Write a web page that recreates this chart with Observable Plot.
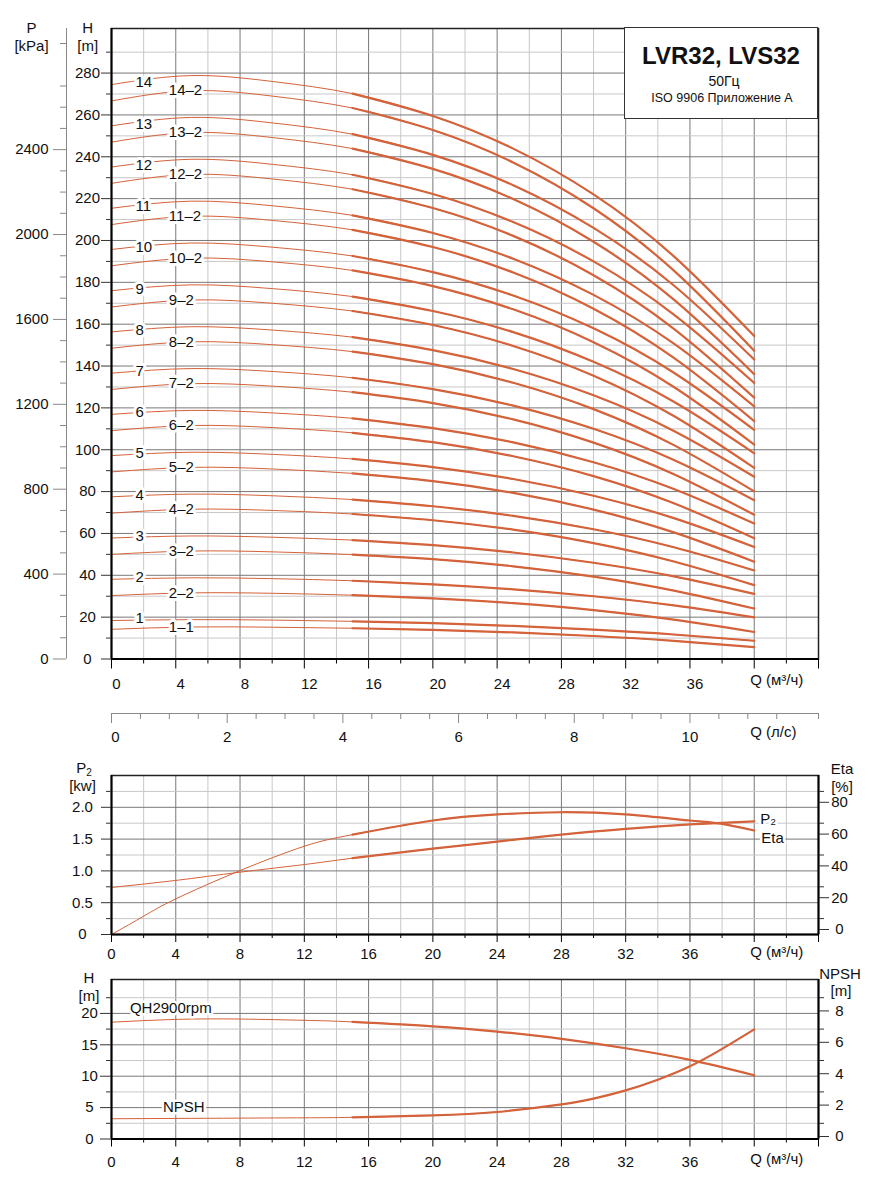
<!DOCTYPE html>
<html>
<head>
<meta charset="utf-8">
<script src="https://cdn.jsdelivr.net/npm/d3@7"></script>
<script src="https://cdn.jsdelivr.net/npm/@observablehq/plot@0.6"></script>
<style>
html, body { margin: 0; padding: 0; background: #fff; }
body { width: 875px; height: 1193px; position: relative; overflow: hidden;
  font-family: "Liberation Sans", Arial, Helvetica, sans-serif; color: #111; }
.panel { position: absolute; left: 0; }
.panel svg { display: block; }
.lbl { position: absolute; font-size: 15px; line-height: 1; transform: translate(-50%, -50%); white-space: nowrap; }
#title { position: absolute; left: 624px; top: 27px; width: 194px; height: 92px; box-sizing: border-box;
  border: 1.5px solid #333; background: #fff; text-align: center; }
#title div { position: absolute; left: 0; right: 0; line-height: 1; white-space: nowrap; }
</style>
</head>
<body>
<div id="p1" class="panel" style="top:0px"></div>
<div id="p2" class="panel" style="top:750px"></div>
<div id="p3" class="panel" style="top:960px"></div>
<div id="title">
  <div style="top:16px;font-size:24px;font-weight:bold;">LVR32, LVS32</div>
  <div style="top:46px;font-size:14px;padding-left:6px;">50Гц</div>
  <div style="top:63.5px;font-size:12.5px;padding-left:2px;">ISO 9906 Приложение A</div>
</div>
<div id="labels"></div>
<script>
const FONT = "'Liberation Sans', Arial, Helvetica, sans-serif";
const CURVE = "#d4623a";
const GRID_DARK = "#787878";
const GRID_LIGHT = "#c8c8c8";
const INK = "#111";

// ---------------- Main chart (H per pump variant) ----------------
const qMain = [0, 5, 10, 15, 20, 25, 30, 35, 40];
const h14   = [274.5, 278.8, 276.0, 270.2, 259.5, 243.9, 222.0, 192.4, 154.3];
const h14_2 = [266.7, 271.6, 269.0, 263.3, 252.8, 237.3, 215.4, 185.6, 147.3];
const h13   = [254.8, 258.8, 256.2, 250.8, 240.9, 226.4, 206.0, 178.5, 143.1];
const h13_2 = [247.0, 251.6, 249.2, 243.9, 234.2, 219.8, 199.4, 171.7, 136.1];
const h12   = [235.1, 238.8, 236.4, 231.4, 222.2, 208.8, 190.0, 164.6, 131.9];
const h12_2 = [227.3, 231.6, 229.4, 224.5, 215.5, 202.2, 183.4, 157.8, 124.9];
const h11   = [215.4, 218.8, 216.6, 212.0, 203.6, 191.3, 174.0, 150.7, 120.7];
const h11_2 = [207.6, 211.6, 209.6, 205.1, 196.9, 184.7, 167.4, 143.9, 113.7];
const h10   = [195.7, 198.8, 196.8, 192.6, 184.9, 173.7, 158.0, 136.8, 109.5];
const h10_2 = [187.9, 191.6, 189.8, 185.7, 178.2, 167.1, 151.4, 130.0, 102.5];
const h9    = [176.0, 178.8, 177.0, 173.2, 166.3, 156.2, 142.0, 122.9, 98.3];
const h9_2  = [168.2, 171.6, 170.0, 166.3, 159.6, 149.6, 135.4, 116.1, 91.3];
const h8    = [156.3, 158.8, 157.2, 153.8, 147.6, 138.6, 126.0, 109.0, 87.1];
const h8_2  = [148.5, 151.6, 150.2, 146.9, 140.9, 132.0, 119.4, 102.2, 80.1];
const h7    = [136.6, 138.8, 137.4, 134.4, 129.0, 121.1, 110.0, 95.1, 75.9];
const h7_2  = [128.8, 131.6, 130.4, 127.5, 122.3, 114.5, 103.4, 88.3, 68.9];
const h6    = [116.9, 118.8, 117.6, 115.0, 110.3, 103.5, 94.0, 81.2, 64.7];
const h6_2  = [109.1, 111.6, 110.6, 108.1, 103.6, 96.9, 87.4, 74.4, 57.7];
const h5    = [97.2, 98.8, 97.8, 95.6, 91.7, 86.0, 78.0, 67.3, 53.5];
const h5_2  = [89.4, 91.6, 90.8, 88.7, 85.0, 79.4, 71.4, 60.5, 46.5];
const h4    = [77.5, 78.8, 78.0, 76.2, 73.0, 68.4, 62.0, 53.4, 42.3];
const h4_2  = [69.7, 71.6, 71.0, 69.3, 66.3, 61.8, 55.4, 46.6, 35.3];
const h3    = [57.8, 58.8, 58.2, 56.8, 54.4, 50.9, 46.0, 39.5, 31.1];
const h3_2  = [50.0, 51.6, 51.2, 49.9, 47.7, 44.3, 39.4, 32.7, 24.1];
const h2    = [38.1, 38.8, 38.4, 37.4, 35.7, 33.3, 30.0, 25.6, 19.9];
const h2_2  = [30.3, 31.6, 31.4, 30.5, 29.0, 26.7, 23.4, 18.8, 12.9];
const h1    = [18.4, 18.8, 18.6, 18.0, 17.1, 15.8, 14.0, 11.7, 8.7];
const h1_1  = [14.2, 15.3, 15.2, 14.7, 13.9, 12.7, 11.0, 8.7, 5.7];

const curveNames = ["14","14–2","13","13–2","12","12–2","11","11–2","10","10–2","9","9–2","8","8–2",
  "7","7–2","6","6–2","5","5–2","4","4–2","3","3–2","2","2–2","1","1–1"];
const curveValues = [h14,h14_2,h13,h13_2,h12,h12_2,h11,h11_2,h10,h10_2,h9,h9_2,h8,h8_2,
  h7,h7_2,h6,h6_2,h5,h5_2,h4,h4_2,h3,h3_2,h2,h2_2,h1,h1_1];

const hTicks = [0,20,40,60,80,100,120,140,160,180,200,220,240,260,280];
const kpaTicks = [0,400,800,1200,1600,2000,2400];
const KPA_PER_M = 9.86;
const qTicks = [0,4,8,12,16,20,24,28,32,36];
const lsTicks = [0,2,4,6,8,10];
const M3H_PER_LS = 3.6;
const qUnit = "Q (м³/ч)";
const lsUnit = "Q (л/с)";

// ---------------- P2 / Eta ----------------
const qPower = [0, 4, 8, 12, 15, 20, 24, 28, 32, 36, 40];
const p2Values = [0.74, 0.85, 0.98, 1.10, 1.20, 1.35, 1.46, 1.57, 1.66, 1.73, 1.78];
const qEta = [0, 2, 4, 8, 12, 15, 20, 24, 28, 32, 36, 38, 40];
const etaValues = [0, 11.5, 22.4, 40.2, 55.5, 62.8, 71.7, 75.5, 76.9, 75.5, 71.7, 69.6, 65.4];
const p2Ticks = [0, 0.5, 1.0, 1.5, 2.0];
const etaTicks = [0, 20, 40, 60, 80];
const ETA_PER_KW = 40;

// ---------------- QH / NPSH ----------------
const qQH = [0, 4, 8, 12, 15, 20, 24, 28, 32, 36, 40];
const qhValues = [18.6, 19.05, 19.1, 18.9, 18.65, 17.95, 17.1, 15.95, 14.45, 12.6, 10.15];
const qNPSH = [0, 4, 8, 12, 15, 20, 24, 28, 30, 32, 34, 36, 38, 40];
const npshValues = [1.29, 1.31, 1.33, 1.35, 1.38, 1.5, 1.72, 2.2, 2.57, 3.1, 3.78, 4.63, 5.74, 6.98];
const hSmallTicks = [0, 5, 10, 15, 20];
const npshTicks = [0, 2, 4, 6, 8];
const H_PER_NPSH = 2.5;

// ---------------- helpers ----------------
const qLight = d3.range(2, 44, 4);
const qDark = d3.range(4, 44, 4);
const vGrid = () => [
  Plot.ruleX(qLight, {stroke: GRID_LIGHT, strokeWidth: 1}),
  Plot.ruleX(qDark, {stroke: GRID_DARK, strokeWidth: 1})
];
const blank = () => "";
const qEnd = qMain[qMain.length - 1];
const SMOOTH = "natural";
const halo = {stroke: "white", strokeWidth: 6, paintOrder: "stroke", fill: INK, fontSize: 15};
const baseStyle = {fontFamily: FONT, fontSize: "15px", color: INK, background: "transparent", overflow: "visible"};

// ================= Panel 1 =================
const mainRows = curveNames.flatMap((name, i) => curveValues[i].map((h, j) => ({curve: name, q: qMain[j], h})));
const mainThick = mainRows.filter(d => d.q >= 15);
const isTrim = n => n.includes("–");
const fullLabels = curveNames.map((name, i) => ({name, q: qMain[0], h: curveValues[i][0]})).filter(d => !isTrim(d.name));
const trimLabels = curveNames.map((name, i) => ({name, q: qMain[1], h: curveValues[i][1]})).filter(d => isTrim(d.name));
const H_TOP = 301.3;

const p1 = Plot.plot({
  width: 875, height: 750,
  marginLeft: 111, marginRight: 57, marginTop: 28, marginBottom: 91.5,
  x: {domain: [0, 44]},
  y: {domain: [0, H_TOP]},
  style: baseStyle,
  marks: [
    ...vGrid(),
    Plot.ruleY(d3.range(10, 300, 20), {stroke: GRID_LIGHT}),
    Plot.ruleY(d3.range(20, 300, 20), {stroke: GRID_DARK}),
    Plot.frame({stroke: "#222", strokeWidth: 1.5}),
    Plot.line(mainRows, {x: "q", y: "h", z: "curve", stroke: CURVE, strokeWidth: 1, curve: SMOOTH}),
    Plot.line(mainThick, {x: "q", y: "h", z: "curve", stroke: CURVE, strokeWidth: 2.2, curve: SMOOTH}),
    Plot.text(fullLabels, {x: "q", y: "h", text: "name", dx: 24, dy: -2, textAnchor: "start", ...halo}),
    Plot.text(trimLabels, {x: "q", y: "h", text: "name", dx: -23, dy: 0, textAnchor: "start", ...halo}),
    Plot.ruleX([0], {stroke: "#000", strokeWidth: 2}),
    Plot.ruleY([0], {stroke: "#000", strokeWidth: 2}),
    // H axis
    Plot.axisY({ticks: hTicks, tickSize: 10, tickPadding: 14, textAnchor: "middle", label: null, stroke: "#333", fill: INK, fontSize: 15}),
    Plot.axisY({ticks: d3.range(10, 300, 20), tickSize: 5, tickFormat: blank, label: null, stroke: "#333"}),
    // kPa axis
    Plot.ruleX([0], {y1: 0, y2: H_TOP, dx: -45, stroke: "#888"}),
    Plot.axisY({ticks: kpaTicks.map(k => k / KPA_PER_M), tickFormat: d => String(Math.round(d * KPA_PER_M)),
      dx: -45, tickSize: 13, tickPadding: 5, label: null, stroke: "#888", fill: INK, fontSize: 15}),
    Plot.axisY({ticks: d3.range(0, 2901, 100).filter(k => k % 400 !== 0).map(k => k / KPA_PER_M), tickFormat: blank,
      dx: -45, tickSize: 6, label: null, stroke: "#888"}),
    // Q m3/h axis
    Plot.axisX({ticks: d3.range(0, 45, 4), tickSize: 10, tickFormat: blank, label: null, stroke: "#000"}),
    Plot.axisX({ticks: d3.range(2, 44, 4), tickSize: 5, tickFormat: blank, label: null, stroke: "#000"}),
    Plot.axisX({ticks: qTicks, tickSize: 0, tickPadding: 19.2, dx: 5, label: null, fill: INK, fontSize: 15}),
    Plot.text([qUnit], {x: () => qEnd, frameAnchor: "bottom", text: d => d, dy: 26, dx: -4, textAnchor: "start", fill: INK, fontSize: 15}),
    // Q l/s axis
    Plot.ruleY([0], {x1: 0, x2: 44, dy: 54.5, stroke: "#888"}),
    Plot.axisX({ticks: lsTicks.map(v => v * M3H_PER_LS), tickFormat: d => d === 0 ? "" : String(Math.round(d / M3H_PER_LS)),
      tickSize: 10, tickPadding: 7.7, dy: 54.5, label: null, stroke: "#888", fill: INK, fontSize: 15}),
    Plot.axisX({ticks: [lsTicks[0]], tickFormat: d => String(d), tickSize: 0, tickPadding: 17.7, dy: 54.5, dx: 4,
      label: null, fill: INK, fontSize: 15}),
    Plot.axisX({ticks: d3.range(0.5, 12.01, 0.5).filter(v => v % 2 !== 0).map(v => v * M3H_PER_LS).concat([44]),
      tickSize: 6, tickFormat: blank, dy: 54.5, label: null, stroke: "#888"}),
    Plot.text([lsUnit], {x: () => qEnd, frameAnchor: "bottom", text: d => d, dy: 78, dx: -4, textAnchor: "start", fill: INK, fontSize: 15})
  ]
});
document.getElementById("p1").append(p1);

// ================= Panel 2 =================
const p2Rows = qPower.map((q, i) => ({q, v: p2Values[i]}));
const etaRows = qEta.map((q, i) => ({q, v: etaValues[i] / ETA_PER_KW}));
const p2 = Plot.plot({
  width: 875, height: 210,
  marginLeft: 111, marginRight: 57, marginTop: 25, marginBottom: 26,
  x: {domain: [0, 44]},
  y: {domain: [0, 2.5]},
  style: baseStyle,
  marks: [
    ...vGrid(),
    Plot.ruleY([0.25, 0.75, 1.25, 1.75, 2.25], {stroke: GRID_LIGHT}),
    Plot.ruleY([0.5, 1, 1.5, 2], {stroke: GRID_DARK}),
    Plot.frame({stroke: "#222", strokeWidth: 1.5}),
    Plot.line(p2Rows, {x: "q", y: "v", stroke: CURVE, strokeWidth: 1, curve: SMOOTH}),
    Plot.line(p2Rows.filter(d => d.q >= 15), {x: "q", y: "v", stroke: CURVE, strokeWidth: 2.2, curve: SMOOTH}),
    Plot.line(etaRows, {x: "q", y: "v", stroke: CURVE, strokeWidth: 1, curve: SMOOTH}),
    Plot.line(etaRows.filter(d => d.q >= 15), {x: "q", y: "v", stroke: CURVE, strokeWidth: 2.2, curve: SMOOTH}),
    Plot.text([p2Rows[p2Rows.length - 1]], {x: "q", y: "v", text: () => "P₂", dx: 6, dy: -2, textAnchor: "start", ...halo, strokeWidth: 5}),
    Plot.text([etaRows[etaRows.length - 1]], {x: "q", y: "v", text: () => "Eta", dx: 7, dy: 8, textAnchor: "start", ...halo, strokeWidth: 5}),
    Plot.ruleX([0, 44], {stroke: "#000", strokeWidth: 2}),
    Plot.ruleY([0], {stroke: "#000", strokeWidth: 2}),
    Plot.axisY({ticks: p2Ticks, tickFormat: d => d === 0 ? "0" : d.toFixed(1), tickSize: 10, tickPadding: 19, textAnchor: "middle",
      label: null, stroke: "#333", fill: INK, fontSize: 15}),
    Plot.axisY({ticks: [0.25, 0.75, 1.25, 1.75, 2.25], tickSize: 5, tickFormat: blank, label: null, stroke: "#333"}),
    Plot.axisY({anchor: "right", ticks: etaTicks.map(e => e / ETA_PER_KW), tickFormat: d => String(Math.round(d * ETA_PER_KW)),
      tickSize: 10, tickPadding: 11, textAnchor: "middle", dy: -5, label: null, stroke: "#333", fill: INK, fontSize: 15}),
    Plot.axisY({anchor: "right", ticks: [10, 30, 50, 70, 90].map(e => e / ETA_PER_KW), tickSize: 5, tickFormat: blank, label: null, stroke: "#333"}),
    Plot.axisX({ticks: d3.range(0, 45, 4), tickSize: 8, tickFormat: blank, label: null, stroke: "#000"}),
    Plot.axisX({ticks: d3.range(2, 44, 4), tickSize: 4, tickFormat: blank, label: null, stroke: "#000"}),
    Plot.axisX({ticks: qTicks, tickSize: 0, tickPadding: 14.2, label: null, fill: INK, fontSize: 15}),
    Plot.text([qUnit], {x: () => qEnd, frameAnchor: "bottom", text: d => d, dy: 22, dx: -4, textAnchor: "start", fill: INK, fontSize: 15})
  ]
});
document.getElementById("p2").append(p2);

// ================= Panel 3 =================
const qhRows = qQH.map((q, i) => ({q, v: qhValues[i]}));
const npshRows = qNPSH.map((q, i) => ({q, v: npshValues[i] * H_PER_NPSH}));
const p3 = Plot.plot({
  width: 875, height: 233,
  marginLeft: 111, marginRight: 57, marginTop: 19, marginBottom: 54.5,
  x: {domain: [0, 44]},
  y: {domain: [0, 25.4]},
  style: baseStyle,
  marks: [
    ...vGrid(),
    Plot.ruleY([2.5, 7.5, 12.5, 17.5, 22.5], {stroke: GRID_LIGHT}),
    Plot.ruleY([5, 10, 15, 20], {stroke: GRID_DARK}),
    Plot.frame({stroke: "#222", strokeWidth: 1.5}),
    Plot.line(qhRows, {x: "q", y: "v", stroke: CURVE, strokeWidth: 1, curve: SMOOTH}),
    Plot.line(qhRows.filter(d => d.q >= 15), {x: "q", y: "v", stroke: CURVE, strokeWidth: 2.2, curve: SMOOTH}),
    Plot.line(npshRows, {x: "q", y: "v", stroke: CURVE, strokeWidth: 1, curve: SMOOTH}),
    Plot.line(npshRows.filter(d => d.q >= 15), {x: "q", y: "v", stroke: CURVE, strokeWidth: 2.2, curve: SMOOTH}),
    Plot.text([qhRows[1]], {x: "q", y: "v", text: () => "QH2900rpm", dx: -5, dy: -11.6, textAnchor: "middle", ...halo, strokeWidth: 5}),
    Plot.text([npshRows[1]], {x: "q", y: "v", text: () => "NPSH", dx: 8, dy: -11.3, textAnchor: "middle", ...halo, strokeWidth: 5}),
    Plot.ruleX([0, 44], {stroke: "#000", strokeWidth: 2}),
    Plot.ruleY([0], {stroke: "#000", strokeWidth: 2}),
    Plot.axisY({ticks: hSmallTicks, tickSize: 11, tickPadding: 11, textAnchor: "middle", label: null, stroke: "#333", fill: INK, fontSize: 15}),
    Plot.axisY({ticks: [2.5, 7.5, 12.5, 17.5, 22.5], tickSize: 5, tickFormat: blank, label: null, stroke: "#333"}),
    Plot.axisY({anchor: "right", ticks: npshTicks.map(n => n * H_PER_NPSH), tickFormat: d => String(Math.round(d / H_PER_NPSH)),
      tickSize: 10, tickPadding: 11, textAnchor: "middle", dy: -2.5, label: null, stroke: "#333", fill: INK, fontSize: 15}),
    Plot.axisY({anchor: "right", ticks: [1, 3, 5, 7, 9].map(n => n * H_PER_NPSH), tickSize: 5, tickFormat: blank, label: null, stroke: "#333"}),
    Plot.axisX({ticks: d3.range(0, 45, 4), tickSize: 8, tickFormat: blank, label: null, stroke: "#000"}),
    Plot.axisX({ticks: d3.range(2, 44, 4), tickSize: 4, tickFormat: blank, label: null, stroke: "#000"}),
    Plot.axisX({ticks: qTicks, tickSize: 0, tickPadding: 17.2, label: null, fill: INK, fontSize: 15}),
    Plot.text([qUnit], {x: () => qEnd, frameAnchor: "bottom", text: d => d, dy: 24.5, dx: -4, textAnchor: "start", fill: INK, fontSize: 15})
  ]
});
document.getElementById("p3").append(p3);

// ================= axis titles (HTML) =================
const axisTitles = [
  ["P", 31.5, 26.5], ["[kPa]", 31.5, 45], ["H", 87.7, 27.3], ["[m]", 87.7, 45],
  ['P<span style="font-size:10px;position:relative;top:3px">2</span>', 84, 766.5], ["[kw]", 82.5, 785],
  ["Eta", 842, 768], ["[%]", 842, 786],
  ["H", 89, 977], ["[m]", 89, 995], ["NPSH", 840, 973], ["[m]", 841, 990]
];
const lblBox = document.getElementById("labels");
for (const [t, x, y] of axisTitles) {
  const d = document.createElement("div");
  d.className = "lbl";
  d.style.left = x + "px";
  d.style.top = y + "px";
  d.innerHTML = t;
  lblBox.append(d);
}
</script>
</body>
</html>
